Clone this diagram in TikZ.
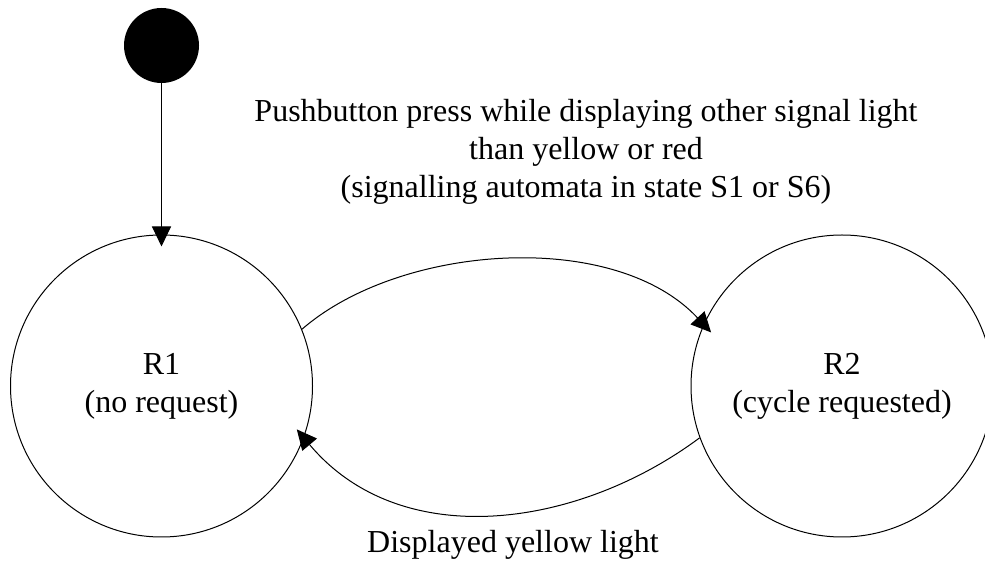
\documentclass[tikz,border=0pt]{standalone}
\usepackage{fontspec}
\setmainfont{Liberation Serif}
\usetikzlibrary{arrows.meta}
\begin{document}
\begin{tikzpicture}[x=1pt,y=1pt,
  txt/.style={font=\fontsize{32}{38}\selectfont, align=center},
  state/.style={circle, draw, line width=1pt, minimum size=302pt, inner sep=0pt, txt},
  initst/.style={circle, fill=black, minimum size=75pt, inner sep=0pt},
  conn/.style={line width=1pt, -{Triangle[length=20pt,width=19pt]}}
]
\useasboundingbox (0,0) rectangle (985,567);
\node[initst] (init) at (161.5,521.5) {};
\node[state] (R1) at (161.5,181) {R1\\(no request)};
\node[state] (R2) at (842,181) {R2\\(cycle requested)};
\node[txt] (lbl1) at (586,415) {Pushbutton press while displaying other signal light\\than yellow or red\\(signalling automata in state S1 or S6)};
\node[txt, anchor=base] (lbl2) at (513,14) {Displayed yellow light};
\draw[conn, shorten >=-12pt] (init) -- (R1);
\draw[conn, shorten >=-11pt] (R1.22.6) to[out=41,in=133,looseness=0.83] (R2.156);
\draw[conn, shorten >=-11pt] (R2.200.5) to[out=216.7,in=310,looseness=0.98] (R1.-20.5);
\end{tikzpicture}
\end{document}
